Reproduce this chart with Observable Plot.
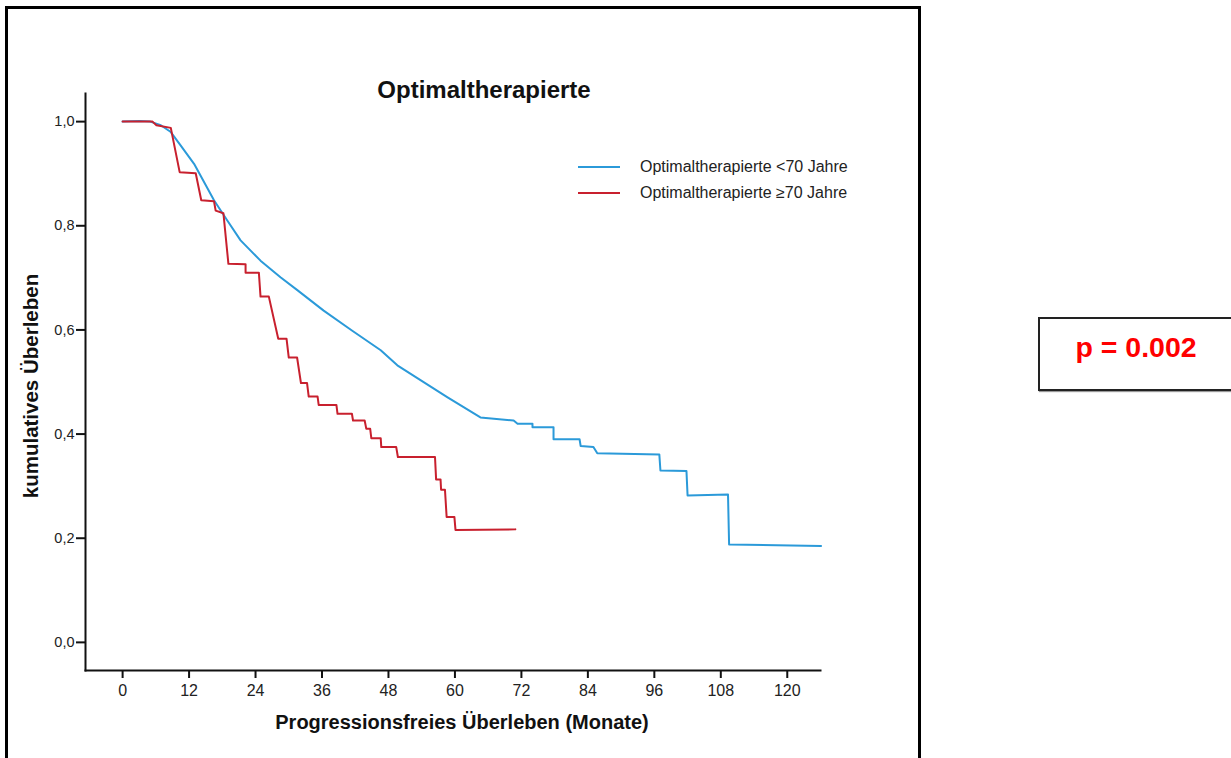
<!DOCTYPE html>
<html><head><meta charset="utf-8">
<script src="https://cdn.jsdelivr.net/npm/d3@7"></script>
<script src="https://cdn.jsdelivr.net/npm/@observablehq/plot@0.6"></script>
<style>
body{margin:0;background:#fff;font-family:"Liberation Sans",Arial,sans-serif;}
#page{position:relative;width:1231px;height:758px;overflow:hidden;background:#fff;}
#frame{position:absolute;left:5px;top:6px;width:910px;height:800px;border:3px solid #000;}
#chart{position:absolute;left:0;top:0;}
.txt{position:absolute;white-space:nowrap;color:#111;}
#title{left:484px;top:90px;transform:translate(-50%,-50%);font-weight:bold;font-size:24px;}
#ylab{left:31px;top:386px;transform:translate(-50%,-50%) rotate(-90deg);font-weight:bold;font-size:20.5px;}
#xlab{left:462px;top:722px;transform:translate(-50%,-50%);font-weight:bold;font-size:20px;}
.leg{position:absolute;left:578px;width:42px;height:2px;}
.legt{position:absolute;left:640px;font-size:16px;color:#222;transform:translateY(-50%);white-space:nowrap;}
#pbox{position:absolute;left:1038px;top:317px;width:200px;height:70px;border:2px solid #222;box-shadow:1px 1px 1px #999;}
#ptxt{position:absolute;left:1136px;top:347px;transform:translate(-50%,-50%);color:#ff0000;font-weight:bold;font-size:28.5px;white-space:nowrap;}
</style></head>
<body><div id="page">
<div id="frame"></div>
<div id="chart"></div>
<div class="txt" id="title"></div>
<div class="txt" id="ylab"></div>
<div class="txt" id="xlab"></div>
<div id="legend"></div>
<div id="pbox"></div>
<div id="ptxt"></div>
</div>
<script>
const titleText = "Optimaltherapierte";
const yLabel = "kumulatives Überleben";
const xLabel = "Progressionsfreies Überleben (Monate)";
const pText = "p = 0.002";
const seriesNames = ["Optimaltherapierte <70 Jahre", "Optimaltherapierte ≥70 Jahre"];
const seriesColors = ["#2b9ad9", "#c8202e"];
const xTicks = [0, 12, 24, 36, 48, 60, 72, 84, 96, 108, 120];
const yTicks = [0, 0.2, 0.4, 0.6, 0.8, 1.0];

const blueMonths = [0, 3, 5, 6.9, 8.7, 10.5, 12.9, 16.5, 18.9, 21.3, 24.9, 28.5, 31.6, 36.3, 41.4, 46.6, 49.6, 58.6, 64.6, 70.6, 71.3, 74, 74, 77.8, 77.8, 82.5, 82.7, 85, 85.7, 96.9, 97.1, 101.8, 102, 109.3, 109.5, 126.1];
const blueSurv   = [1.0, 1.001, 1.0, 0.993, 0.98, 0.954, 0.919, 0.849, 0.81, 0.772, 0.733, 0.701, 0.676, 0.637, 0.599, 0.561, 0.532, 0.471, 0.432, 0.426, 0.42, 0.42, 0.413, 0.413, 0.39, 0.39, 0.377, 0.375, 0.363, 0.361, 0.33, 0.329, 0.282, 0.284, 0.188, 0.185];

const redMonths = [0, 5.4, 6.1, 8.7, 10.3, 13.2, 14.2, 16.5, 16.8, 18.2, 19.1, 22.2, 22.2, 24.6, 24.9, 26.4, 28.1, 29.6, 30.0, 31.5, 32.2, 33.3, 33.6, 35.2, 35.4, 38.6, 38.8, 41.4, 41.6, 43.7, 44.0, 44.7, 44.9, 46.6, 46.7, 49.4, 49.7, 56.4, 56.6, 57.4, 57.5, 58.2, 58.5, 59.9, 60.1, 70.9];
const redSurv   = [1.0, 1.0, 0.993, 0.988, 0.903, 0.901, 0.849, 0.847, 0.829, 0.824, 0.727, 0.726, 0.71, 0.71, 0.664, 0.664, 0.583, 0.583, 0.547, 0.547, 0.498, 0.498, 0.472, 0.472, 0.456, 0.456, 0.439, 0.439, 0.426, 0.426, 0.41, 0.41, 0.392, 0.392, 0.375, 0.375, 0.356, 0.356, 0.313, 0.313, 0.293, 0.293, 0.241, 0.241, 0.216, 0.217];

const blue = blueMonths.map((m, i) => ({month: m, surv: blueSurv[i]}));
const red = redMonths.map((m, i) => ({month: m, surv: redSurv[i]}));

const tickFont = '"Liberation Sans",Arial,sans-serif';

const chart = Plot.plot({
  width: 930, height: 758,
  marginLeft: 85, marginRight: 110, marginTop: 93, marginBottom: 88,
  x: {domain: [-6.7, 126]},
  y: {domain: [-0.054, 1.054]},
  style: {background: "transparent", fontFamily: tickFont, fontSize: "14px", color: "#222", overflow: "visible"},
  marks: [
    Plot.axisX({ticks: xTicks, tickSize: 8, tickPadding: 6, label: null, strokeWidth: 2, stroke: "#111", fontSize: 16, tickFormat: d => String(d)}),
    Plot.axisY({ticks: yTicks, tickSize: 9, tickPadding: 2, label: null, strokeWidth: 2, stroke: "#111", fontSize: 14.5, tickFormat: d => d.toFixed(1).replace(".", ",")}),
    Plot.frame({anchor: "left", strokeWidth: 2, stroke: "#111"}),
    Plot.frame({anchor: "bottom", strokeWidth: 2, stroke: "#111"}),
    Plot.line(blue, {x: "month", y: "surv", stroke: seriesColors[0], strokeWidth: 2}),
    Plot.line(red, {x: "month", y: "surv", stroke: seriesColors[1], strokeWidth: 2})
  ]
});
document.getElementById("chart").appendChild(chart);
document.getElementById("title").textContent = titleText;
document.getElementById("ylab").textContent = yLabel;
document.getElementById("xlab").textContent = xLabel;
document.getElementById("ptxt").textContent = pText;
const legend = document.getElementById("legend");
const legY = [167, 193];
seriesNames.forEach((n, i) => {
  const l = document.createElement("div");
  l.className = "leg"; l.style.top = (legY[i] - 1) + "px"; l.style.background = seriesColors[i];
  const t = document.createElement("div");
  t.className = "legt"; t.style.top = legY[i] + "px"; t.textContent = n;
  legend.appendChild(l); legend.appendChild(t);
});
</script>
</body></html>
